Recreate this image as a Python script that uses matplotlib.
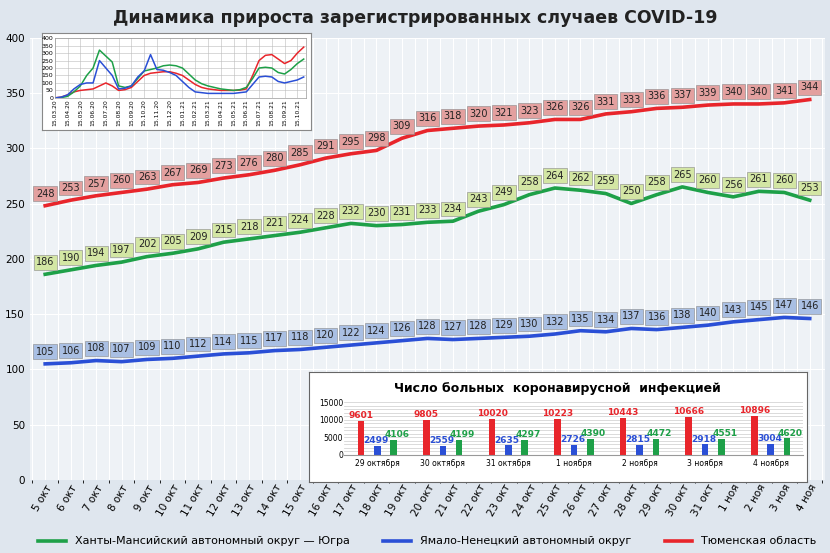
import matplotlib.pyplot as plt
import numpy as np

# ---- данные основного графика ----
days = ["5 окт", "6 окт", "7 окт", "8 окт", "9 окт", "10 окт", "11 окт", "12 окт", "13 окт",
        "14 окт", "15 окт", "16 окт", "17 окт", "18 окт", "19 окт", "20 окт", "21 окт", "22 окт",
        "23 окт", "24 окт", "25 окт", "26 окт", "27 окт", "28 окт", "29 окт", "30 окт", "31 окт",
        "1 ноя", "2 ноя", "3 ноя", "4 ноя"]
tyumen = [248, 253, 257, 260, 263, 267, 269, 273, 276, 280, 285, 291, 295, 298, 309, 316, 318,
          320, 321, 323, 326, 326, 331, 333, 336, 337, 339, 340, 340, 341, 344]
hmao = [186, 190, 194, 197, 202, 205, 209, 215, 218, 221, 224, 228, 232, 230, 231, 233, 234,
        243, 249, 258, 264, 262, 259, 250, 258, 265, 260, 256, 261, 260, 253]
yanao = [105, 106, 108, 107, 109, 110, 112, 114, 115, 117, 118, 120, 122, 124, 126, 128, 127,
         128, 129, 130, 132, 135, 134, 137, 136, 138, 140, 143, 145, 147, 146]

# ---- мини-график (полумесячные точки 15.03.20 .. 10.21) ----
mini_ticks = ["15.03.20", "15.04.20", "15.05.20", "15.06.20", "15.07.20", "15.08.20", "15.09.20",
              "15.10.20", "15.11.20", "15.12.20", "15.01.21", "15.02.21", "15.03.21", "15.04.21",
              "15.05.21", "15.06.21", "15.07.21", "15.08.21", "15.09.21", "15.10.21"]
mini_red = [0, 5, 20, 40, 50, 55, 60, 80, 100, 80, 50, 55, 70, 110, 150, 165, 170, 175, 175,
            165, 150, 120, 90, 70, 60, 55, 50, 50, 50, 52, 60, 150, 250, 285, 290, 260, 230, 250,
            300, 340]
mini_green = [0, 2, 10, 40, 80, 150, 200, 320, 280, 240, 80, 70, 80, 130, 180, 190, 200, 215,
              220, 215, 200, 160, 120, 95, 80, 70, 60, 55, 50, 55, 70, 130, 200, 205, 200, 170,
              160, 190, 230, 260]
mini_blue = [0, 5, 20, 60, 90, 100, 100, 250, 200, 150, 60, 65, 80, 140, 180, 290, 190, 185,
             170, 150, 110, 70, 40, 35, 30, 30, 30, 30, 30, 35, 40, 90, 140, 145, 140, 110,
             100, 110, 120, 140]

# ---- нижняя вставка ----
bar_days = ["29 октября", "30 октября", "31 октября", "1 ноября", "2 ноября", "3 ноября", "4 ноября"]
bar_tyumen = [9601, 9805, 10020, 10223, 10443, 10666, 10896]
bar_yanao = [2499, 2559, 2635, 2726, 2815, 2918, 3004]
bar_hmao = [4106, 4199, 4297, 4390, 4472, 4551, 4620]

RED, GREEN, BLUE = "#e8252b", "#1ea048", "#2a4fd6"

fig = plt.figure(figsize=(8.3, 5.53), dpi=100)
fig.patch.set_facecolor("#dfe6ee")
fig.text(0.5, 0.968, "Динамика прироста зарегистрированных случаев COVID-19",
         ha="center", va="center", fontsize=12.5, fontweight="bold", color="#222222")

ax = fig.add_axes([0.036, 0.132, 0.958, 0.8])
ax.set_facecolor("#eef2f6")
x = np.arange(len(days))
ax.set_xlim(-0.6, len(days) - 0.4)
ax.set_ylim(0, 400)
ax.set_yticks(range(0, 401, 50))
ax.set_xticks(x)
ax.set_xticklabels(days, rotation=60, ha="right", rotation_mode="anchor", fontsize=7.5)
ax.tick_params(axis="y", labelsize=7.5, length=0)
ax.tick_params(axis="x", length=0, pad=2)
ax.set_xticks(np.arange(-0.5, len(days), 0.5), minor=True)
ax.grid(which="minor", axis="x", color="white", lw=0.8)
ax.grid(which="major", axis="x", color="white", lw=0.8)
ax.grid(axis="y", color="white", lw=0.8)
for s in ax.spines.values():
    s.set_visible(False)

series = [(hmao, GREEN, "#d3e6a4", "Ханты-Мансийский автономный округ — Югра"),
          (yanao, BLUE, "#a9bfe3", "Ямало-Ненецкий автономный округ"),
          (tyumen, RED, "#e3a09f", "Тюменская область")]
for vals, c, fc, lab in series:
    ax.plot(x, vals, color=c, lw=2.6, label=lab)
    for xi, v in zip(x, vals):
        ax.text(xi, v + 11, str(v), ha="center", va="center", fontsize=7, color="#222222",
                bbox=dict(boxstyle="square,pad=0.25", fc=fc, ec="#888888", lw=0.4))

ax.legend(loc="upper center", bbox_to_anchor=(0.5, -0.105), ncol=3, frameon=False,
          fontsize=8, handlelength=2.5, columnspacing=3)

# ---- мини-график ----
ibg = fig.add_axes([0.05, 0.765, 0.325, 0.175])
ibg.set_facecolor("white")
ibg.set_xticks([])
ibg.set_yticks([])
for s in ibg.spines.values():
    s.set_color("#888888")
ia = fig.add_axes([0.066, 0.823, 0.303, 0.108])
ia.set_facecolor("white")
mx = np.arange(len(mini_red)) / 2
for vals, c in [(mini_red, RED), (mini_green, GREEN), (mini_blue, BLUE)]:
    ia.plot(mx, vals, color=c, lw=1.1)
ia.set_xlim(0, 19.7)
ia.set_ylim(0, 400)
ia.set_yticks(range(0, 401, 50))
ia.set_xticks(range(len(mini_ticks)))
ia.set_xticklabels(mini_ticks, rotation=90, fontsize=4.3)
ia.tick_params(axis="y", labelsize=4.5, length=0, pad=1)
ia.tick_params(axis="x", length=0, pad=1)
ia.grid(color="#bbbbbb", lw=0.4)
for s in ia.spines.values():
    s.set_color("#999999")
    s.set_linewidth(0.5)

# ---- нижняя вставка ----
bg = fig.add_axes([0.372, 0.128, 0.6, 0.2])
bg.set_facecolor("white")
bg.set_xticks([])
bg.set_yticks([])
for s in bg.spines.values():
    s.set_color("#666666")
bg.text(0.5, 0.85, "Число больных  коронавирусной  инфекцией", ha="center", va="center",
        fontsize=9, fontweight="bold", transform=bg.transAxes)

ba = fig.add_axes([0.415, 0.178, 0.553, 0.095])
ba.set_facecolor("white")
bx = np.arange(len(bar_days))
w = 0.1
for off, vals, c in [(-0.25, bar_tyumen, RED), (0, bar_yanao, BLUE), (0.25, bar_hmao, GREEN)]:
    ba.bar(bx + off, vals, w, color=c)
for xi, v in zip(bx - 0.25, bar_tyumen):
    ba.text(xi, v + 300, str(v), ha="center", va="bottom", fontsize=6.5, color=RED,
            fontweight="bold")
for xi, v in zip(bx - 0.02, bar_yanao):
    ba.text(xi, v + 200, str(v), ha="center", va="bottom", fontsize=6.5, color=BLUE,
            fontweight="bold")
for xi, v in zip(bx + 0.3, bar_hmao):
    ba.text(xi, v + 200, str(v), ha="center", va="bottom", fontsize=6.5, color=GREEN,
            fontweight="bold")
ba.set_xlim(-0.5, len(bar_days) - 0.5)
ba.set_ylim(0, 15000)
ba.set_yticks(range(0, 15001, 5000))
ba.set_xticks(bx)
ba.set_xticklabels(bar_days, fontsize=5.5)
ba.tick_params(axis="y", labelsize=5.5, length=0, pad=1)
ba.tick_params(axis="x", length=0)
for yv in range(0, 15001, 1000):
    ba.axhline(yv, color="#cccccc", lw=0.5, zorder=0)
for s in ba.spines.values():
    s.set_visible(False)
ba.spines["bottom"].set_visible(True)
ba.spines["bottom"].set_color("#999999")

fig.savefig("out.png", dpi=100, facecolor=fig.get_facecolor())
